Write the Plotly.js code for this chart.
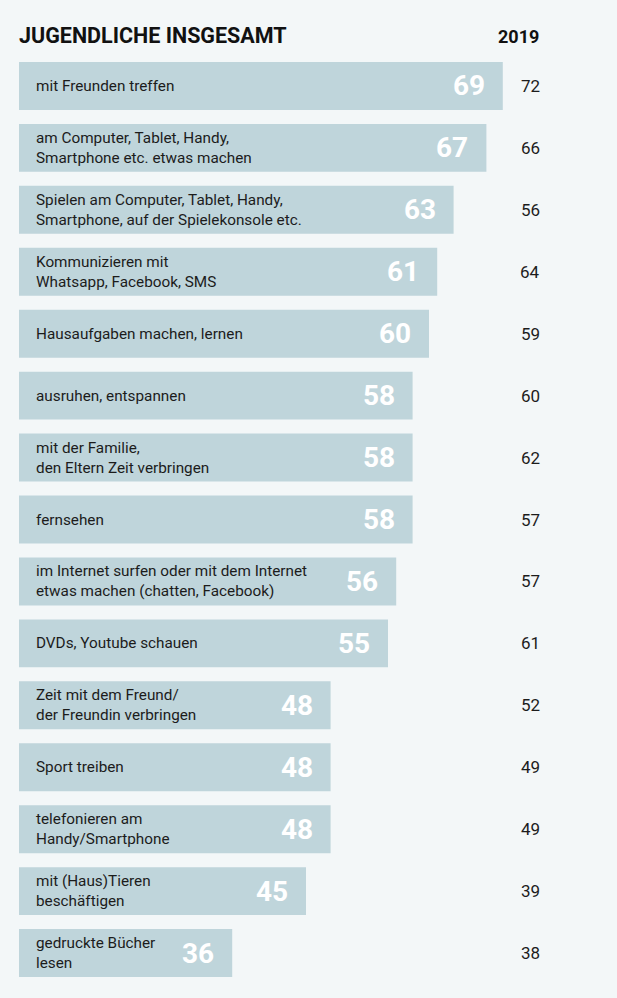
<!DOCTYPE html>
<html>
<head>
<meta charset="utf-8">
<script src="https://cdn.plot.ly/plotly-3.0.1.min.js"></script>
<style>
html,body{margin:0;padding:0;background:#f3f7f8;}
#chart{width:617px;height:998px;}
</style>
</head>
<body>
<div id="chart"></div>
<script>
const categories = [
  "mit Freunden treffen",
  "am Computer, Tablet, Handy,<br>Smartphone etc. etwas machen",
  "Spielen am Computer, Tablet, Handy,<br>Smartphone, auf der Spielekonsole etc.",
  "Kommunizieren mit<br>Whatsapp, Facebook, SMS",
  "Hausaufgaben machen, lernen",
  "ausruhen, entspannen",
  "mit der Familie,<br>den Eltern Zeit verbringen",
  "fernsehen",
  "im Internet surfen oder mit dem Internet<br>etwas machen (chatten, Facebook)",
  "DVDs, Youtube schauen",
  "Zeit mit dem Freund/<br>der Freundin verbringen",
  "Sport treiben",
  "telefonieren am<br>Handy/Smartphone",
  "mit (Haus)Tieren<br>beschäftigen",
  "gedruckte Bücher<br>lesen"
];
const values2023 = [69, 67, 63, 61, 60, 58, 58, 58, 56, 55, 48, 48, 48, 45, 36];
const values2019 = [72, 66, 56, 64, 59, 60, 62, 57, 57, 61, 52, 49, 49, 39, 38];
const chartTitle = "JUGENDLICHE INSGESAMT";
const compareYear = "2019";

const ids = categories.map((c, i) => "c" + i);

const W = 617, H = 998, ML = 19, MR = 0, MT = 55, MB = 14;
const plotW = W - ML - MR, plotH = H - MT - MB;
const pxPerUnit = 8.2;
const xMin = 10;
const xMax = xMin + plotW / pxPerUnit;

const font = "Roboto, 'Liberation Sans', sans-serif";

const annotations = [];
categories.forEach((c, i) => {
  annotations.push({
    xref: "paper", yref: "y", x: (34 - ML) / plotW, y: ids[i],
    text: c, showarrow: false, xanchor: "left", yanchor: "middle", align: "left",
    font: {family: font, size: 15.3, color: "#1c1c1c"}
  });
  annotations.push({
    xref: "x", yref: "y", x: values2023[i], y: ids[i], xshift: -16,
    text: String(values2023[i]), showarrow: false, xanchor: "right", yanchor: "middle",
    font: {family: font, size: 28, color: "#ffffff", weight: 700}
  });
  annotations.push({
    xref: "paper", yref: "y", x: (530 - ML) / plotW, y: ids[i],
    text: String(values2019[i]), showarrow: false, xanchor: "center", yanchor: "middle",
    font: {family: font, size: 17, color: "#1c1c1c"}
  });
});
annotations.push({
  xref: "paper", yref: "paper", x: (541 - ML) / plotW, y: 1 + (MT - 36) / plotH,
  text: "<b>" + compareYear + "</b>", showarrow: false, xanchor: "right", yanchor: "middle",
  font: {family: font, size: 18, color: "#111111"}
});

const trace = {
  type: "bar",
  orientation: "h",
  y: ids,
  x: values2023,
  marker: {color: "#bfd5db", line: {width: 0}},
  hoverinfo: "none",
  textposition: "none"
};

const layout = {
  width: W, height: H,
  margin: {l: ML, r: MR, t: MT, b: MB, pad: 0},
  paper_bgcolor: "#f3f7f8",
  plot_bgcolor: "#f3f7f8",
  showlegend: false,
  bargap: 14 / 62,
  title: {
    text: "<b>" + chartTitle + "</b>",
    xref: "container", yref: "container",
    x: ML / W, xanchor: "left",
    y: 1 - 35 / H, yanchor: "middle",
    font: {family: font, size: 21.5, color: "#111111"}
  },
  xaxis: {range: [xMin, xMax], visible: false, fixedrange: true},
  yaxis: {autorange: "reversed", visible: false, fixedrange: true, type: "category"},
  annotations: annotations
};

Plotly.newPlot("chart", [trace], layout, {displayModeBar: false, staticPlot: true});
</script>
</body>
</html>
